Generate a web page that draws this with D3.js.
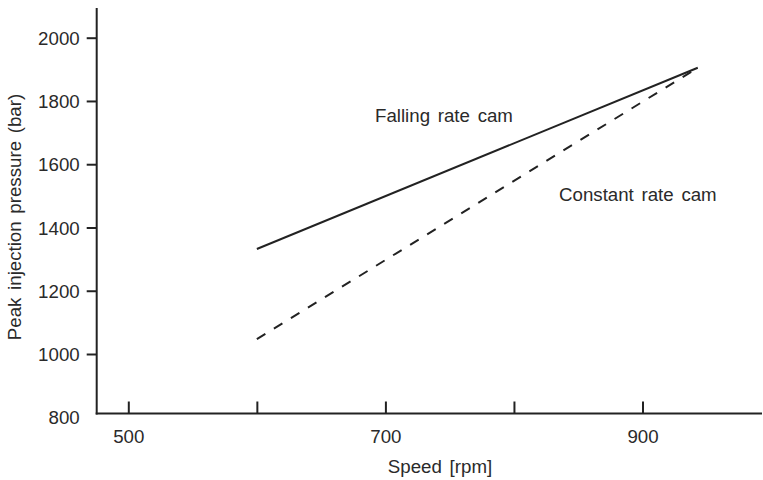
<!DOCTYPE html>
<html><head><meta charset="utf-8">
<script src="https://cdn.jsdelivr.net/npm/d3@7"></script>
<style>body{margin:0;background:#fff}text{font-family:"Liberation Sans",Arial,sans-serif;fill:#2a2a2a}</style>
</head><body>
<svg id="c" width="763" height="480"></svg>
<script>
const xTicks = [500, 600, 700, 800, 900];
const xTickLabels = ["500", "", "700", "", "900"];
const yTicks = [800, 1000, 1200, 1400, 1600, 1800, 2000];
const fallingSpeed = [600, 943];
const fallingPressure = [1332, 1905];
const constantSpeed = [600, 943];
const constantPressure = [1047, 1905];
const seriesLabels = ["Falling rate cam", "Constant rate cam"];

const svg = d3.select("#c");
const x = d3.scaleLinear().domain([500, 900]).range([128.3, 642.5]);
const y = d3.scaleLinear().domain([1000, 2000]).range([354, 37.7]);
const axisX0 = 96.7, axisY0 = 413.5;
const col = "#222";
const fs = 18.7;
const ff = '"Liberation Sans",Arial,sans-serif';

// axes lines
svg.append("line").attr("x1", axisX0).attr("x2", axisX0).attr("y1", 8).attr("y2", axisY0 + 1)
  .attr("stroke", col).attr("stroke-width", 2);
svg.append("line").attr("x1", axisX0 - 1).attr("x2", 762).attr("y1", axisY0).attr("y2", axisY0)
  .attr("stroke", col).attr("stroke-width", 2);

// x ticks (inward)
const xa = d3.axisBottom(x).tickValues(xTicks).tickSize(0).tickFormat((d, i) => xTickLabels[i]);
const gx = svg.append("g").attr("transform", `translate(0,${axisY0})`).call(xa);
gx.select(".domain").remove();
gx.selectAll(".tick line").remove();
gx.selectAll(".tick").append("line").attr("y1", 0).attr("y2", -12).attr("stroke", col).attr("stroke-width", 2);
gx.selectAll(".tick text").attr("y", 29.5).attr("dy", 0).attr("font-size", fs).attr("fill", "#2a2a2a")
  .style("font-family", ff);

// y ticks (outward)
const ya = d3.axisLeft(y).tickValues(yTicks).tickSize(0).tickFormat(d3.format("d"));
const gy = svg.append("g").attr("transform", `translate(${axisX0},0)`).call(ya);
gy.select(".domain").remove();
gy.selectAll(".tick line").remove();
gy.selectAll(".tick").filter(d => d !== 800).append("line").attr("x1", 0).attr("x2", -10).attr("stroke", col).attr("stroke-width", 2);
gy.selectAll(".tick text").attr("x", -17).attr("dy", "0.36em").attr("font-size", fs).attr("fill", "#2a2a2a")
  .style("font-family", ff);

// lines
const line = d3.line().x(d => x(d[0])).y(d => y(d[1]));
svg.append("path").datum(d3.zip(fallingSpeed, fallingPressure)).attr("d", line)
  .attr("fill", "none").attr("stroke", col).attr("stroke-width", 2);
svg.append("path").datum(d3.zip(constantSpeed, constantPressure)).attr("d", line)
  .attr("fill", "none").attr("stroke", col).attr("stroke-width", 2).attr("stroke-dasharray", "10,10");

// labels
svg.append("text").attr("x", 375).attr("y", 122).attr("font-size", fs).style("word-spacing", "2.5px").text(seriesLabels[0]);
svg.append("text").attr("x", 559).attr("y", 200.5).attr("font-size", fs).style("word-spacing", "2.5px").text(seriesLabels[1]);

// axis titles
svg.append("text").attr("x", 440).attr("y", 473).attr("text-anchor", "middle").attr("font-size", fs).style("word-spacing", "2.5px").text("Speed [rpm]");
svg.append("text").attr("transform", "translate(21,217) rotate(-90)").attr("text-anchor", "middle").attr("font-size", fs)
  .style("word-spacing", "2.5px").text("Peak injection pressure (bar)");
</script>
</body></html>
